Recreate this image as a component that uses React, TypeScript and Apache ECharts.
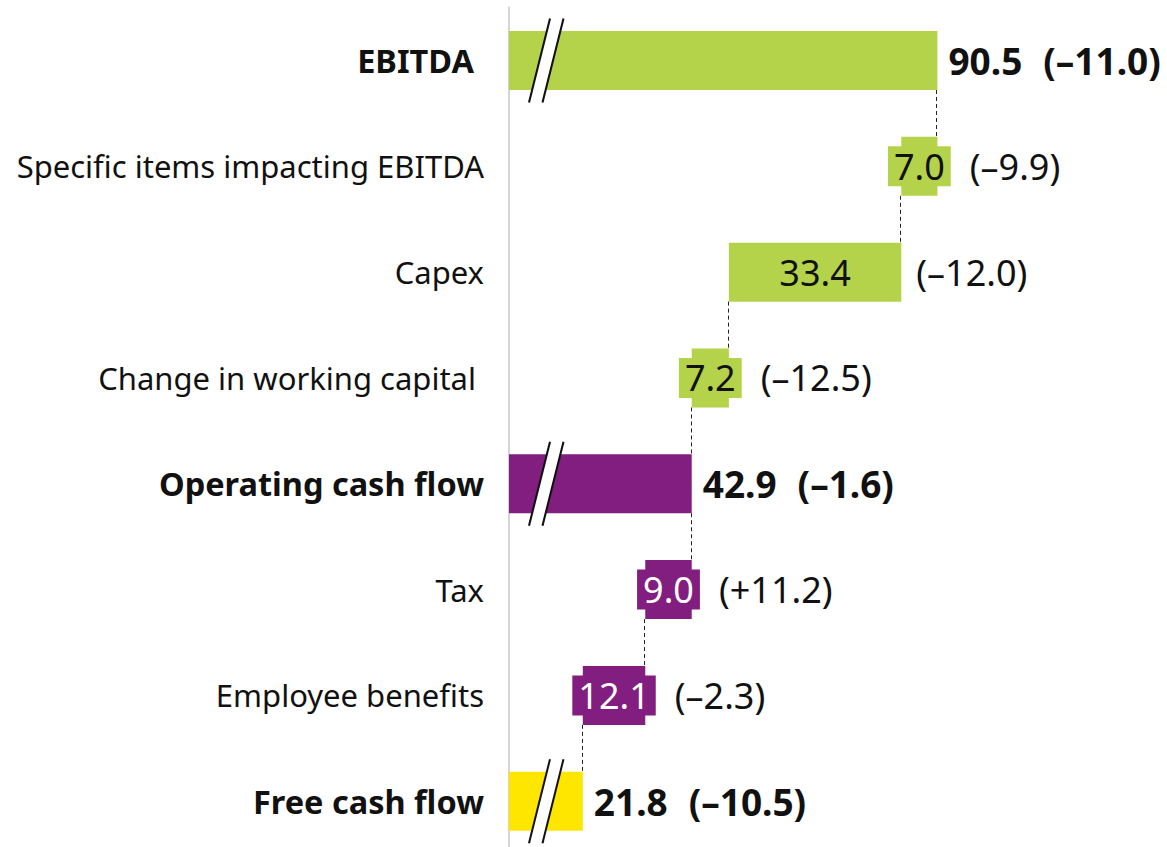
import React, { useEffect, useRef } from "react";
import * as echarts from "echarts";

// ---- data ----
const categories = [
  "EBITDA",
  "Specific items impacting EBITDA",
  "Capex",
  "Change in working capital",
  "Operating cash flow",
  "Tax",
  "Employee benefits",
  "Free cash flow",
];
const kinds = ["total", "delta", "delta", "delta", "total", "delta", "delta", "total"];
const values = [90.5, 7.0, 33.4, 7.2, 42.9, 9.0, 12.1, 21.8];
const changes = ["(–11.0)", "(–9.9)", "(–12.0)", "(–12.5)", "(–1.6)", "(+11.2)", "(–2.3)", "(–10.5)"];
const barColors = ["#B4D34A", "#B4D34A", "#B4D34A", "#B4D34A", "#821E7F", "#821E7F", "#821E7F", "#FFE600"];
const valueTextColors = ["#111", "#111", "#111", "#111", "#fff", "#fff", "#fff", "#111"];
const xMin = 7.5;
const xMax = 130;

// ---- derived waterfall positions ----
const bases: (number | string)[] = [];
const levelsAfter: number[] = [];
{
  let level = 0;
  values.forEach((v, i) => {
    if (kinds[i] === "total") {
      bases.push("-");
      level = v;
    } else {
      level = +(level - v).toFixed(1);
      bases.push(level);
    }
    levelsAfter.push(level);
  });
}

const FONT = '"Noto Sans", sans-serif';
const BAR_H = 59;

let measureCtx: CanvasRenderingContext2D | null = null;
function textWidth(text: string, font: string) {
  if (!measureCtx) measureCtx = document.createElement("canvas").getContext("2d");
  measureCtx!.font = font;
  return measureCtx!.measureText(text).width;
}

export default function App() {
  const ref = useRef<HTMLDivElement>(null);

  useEffect(() => {
    if (!ref.current) return;
    const chart = echarts.init(ref.current, undefined, { renderer: "svg" });

    const valueData = values.map((v, i) => {
      if (kinds[i] === "total") {
        return {
          value: v,
          itemStyle: { color: barColors[i] },
          label: {
            show: true,
            position: "right",
            distance: 11,
            formatter: `{a|${v.toFixed(1)}}{c|${changes[i]}}`,
            rich: {
              a: { fontSize: 37, fontWeight: "bold", fontFamily: FONT, color: "#111" },
              c: { fontSize: 37, fontWeight: "bold", fontFamily: FONT, color: "#111", padding: [0, 0, 0, 21] },
            },
          },
        };
      }
      return {
        value: v,
        itemStyle: { color: barColors[i] },
        label: {
          show: true,
          position: "inside",
          formatter: v.toFixed(1),
          fontSize: 36,
          fontFamily: FONT,
          color: valueTextColors[i],
          backgroundColor: barColors[i],
          padding: [2, 6],
        },
      };
    });

    const connectorData = levelsAfter.slice(0, -1).map((lv, i) => [lv, i]);
    const breakData = kinds.map((k, i) => (k === "total" ? [xMin, i] : null)).filter(Boolean);
    const changeData = kinds
      .map((k, i) => (k === "delta" ? [bases[i] as number, i, values[i]] : null))
      .filter(Boolean);

    const padRight = [10, 0, 0, 8, 0, 0, 0, 0];

    const option: any = {
      animation: false,
      grid: {
        left: 509,
        top: 7.6,
        width: (xMax - xMin) * 5.1616,
        height: 846.5,
        containLabel: false,
        outerBoundsMode: "none",
      },
      xAxis: { type: "value", min: xMin, max: xMax, show: false },
      yAxis: {
        type: "category",
        inverse: true,
        data: categories,
        axisLine: { show: true, lineStyle: { color: "#d4d4d4", width: 2 } },
        axisTick: { show: false },
        splitLine: { show: false },
        axisLabel: {
          margin: 25,
          formatter: (val: string, idx: number) => {
            const bold = kinds[idx] === "total";
            const style = (bold ? "b" : "n") + (padRight[idx] ? "p" : "");
            return `{${style}|${val}}`;
          },
          rich: {
            n: { fontSize: 31, fontFamily: FONT, color: "#111" },
            b: { fontSize: 32.5, fontFamily: FONT, fontWeight: "bold", color: "#111" },
            np: { fontSize: 31, fontFamily: FONT, color: "#111", padding: [0, 8, 0, 0] },
            bp: { fontSize: 32.5, fontFamily: FONT, fontWeight: "bold", color: "#111", padding: [0, 10, 0, 0] },
          },
        },
      },
      series: [
        {
          name: "base",
          type: "bar",
          stack: "w",
          barWidth: BAR_H,
          silent: true,
          itemStyle: { color: "rgba(0,0,0,0)" },
          data: bases,
        },
        {
          name: "value",
          type: "bar",
          stack: "w",
          barWidth: BAR_H,
          silent: true,
          data: valueData,
        },
        {
          name: "connectors",
          type: "custom",
          silent: true,
          z: 1,
          data: connectorData,
          renderItem: (_p: any, api: any) => {
            const x = api.value(0);
            const row = api.value(1);
            const p1 = api.coord([x, row]);
            const p2 = api.coord([x, row + 1]);
            const px = Math.round(p1[0]) - 0.5;
            return {
              type: "line",
              shape: { x1: px, y1: p1[1] + BAR_H / 2, x2: px, y2: p2[1] - BAR_H / 2 },
              style: { stroke: "#222", lineWidth: 1, lineDash: [4, 3] },
            };
          },
        },
        {
          name: "breaks",
          type: "custom",
          silent: true,
          z: 5,
          data: breakData,
          renderItem: (_p: any, api: any) => {
            const row = api.value(1);
            const p = api.coord([xMin, row]);
            const yc = p[1];
            const xl = p[0] + 30.5;
            const xr = p[0] + 44;
            const h = 42;
            const d = 10.5;
            return {
              type: "group",
              children: [
                {
                  type: "polygon",
                  shape: { points: [[xl + d, yc - h], [xr + d, yc - h], [xr - d, yc + h], [xl - d, yc + h]] },
                  style: { fill: "#fff" },
                },
                { type: "line", shape: { x1: xl + d, y1: yc - h, x2: xl - d, y2: yc + h }, style: { stroke: "#111", lineWidth: 2 } },
                { type: "line", shape: { x1: xr + d, y1: yc - h, x2: xr - d, y2: yc + h }, style: { stroke: "#111", lineWidth: 2 } },
              ],
            };
          },
        },
        {
          name: "changes",
          type: "custom",
          silent: true,
          z: 5,
          data: changeData,
          renderItem: (_p: any, api: any) => {
            const base = api.value(0);
            const row = api.value(1);
            const v = api.value(2);
            const left = api.coord([base, row]);
            const right = api.coord([base + v, row]);
            const center = (left[0] + right[0]) / 2;
            const w = textWidth(v.toFixed(1), `36px ${FONT}`);
            const boxRight = center + w / 2 + 6;
            const x = Math.max(right[0] + 15, boxRight + 19);
            return {
              type: "text",
              x,
              y: left[1],
              style: {
                text: changes[row],
                fill: "#111",
                font: `36px ${FONT}`,
                align: "left",
                verticalAlign: "middle",
              },
            };
          },
        },
      ],
    };

    chart.setOption(option);
    return () => chart.dispose();
  }, []);

  return (
    <div
      ref={ref}
      style={{ position: "fixed", left: 0, top: 0, width: 1167, height: 847, background: "#fff" }}
    />
  );
}
